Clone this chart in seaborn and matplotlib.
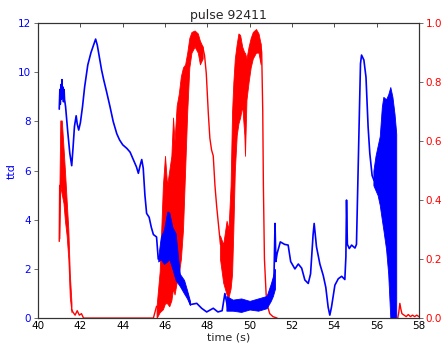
import matplotlib
matplotlib.use("Agg")
import matplotlib.pyplot as plt
import seaborn as sns

# ttd (blue, left axis): smooth trace
ttd_t = [41.00, 41.03, 41.05, 41.08, 41.10, 41.13, 41.15, 41.18, 41.20, 41.23,
         41.25, 41.30, 41.40, 41.50, 41.59,
         41.65, 41.72, 41.80, 41.85, 41.92, 42.00, 42.10, 42.20, 42.35, 42.50,
         42.62, 42.72, 42.80, 42.90, 43.00, 43.10, 43.24, 43.40, 43.55, 43.72,
         43.85, 44.00, 44.20, 44.35, 44.50, 44.65, 44.74, 44.82, 44.90, 44.97,
         45.05, 45.13, 45.25, 45.35, 45.45, 45.60, 45.68, 45.80, 46.00, 46.15,
         46.30, 46.50, 46.70, 46.90, 47.05, 47.20, 47.50, 47.73, 47.97, 48.28,
         48.50, 48.70, 48.83, 48.97, 49.20, 49.60, 50.00, 50.40, 50.80, 51.00,
         51.15, 51.20, 51.24, 51.30, 51.45, 51.65, 51.82, 51.94, 52.14, 52.30,
         52.46, 52.61, 52.77, 52.88, 53.00, 53.05, 53.16, 53.32, 53.48, 53.60,
         53.71, 53.79, 53.87, 54.03, 54.19, 54.35, 54.50, 54.55, 54.58, 54.62,
         54.71, 54.82, 54.98, 55.05, 55.13, 55.18, 55.24, 55.29, 55.40, 55.50,
         55.60, 55.68, 55.79, 55.88]
ttd_v = [8.5, 9.3, 8.7, 9.5, 8.9, 9.7, 9.0, 9.4, 8.8, 9.3,
         8.9, 8.6, 7.6, 6.7, 6.2,
         6.9, 7.8, 8.23, 7.9, 7.65, 7.95, 8.6, 9.4, 10.3, 10.8,
         11.1, 11.35, 11.1, 10.6, 10.1, 9.7, 9.2, 8.6, 8.0, 7.5,
         7.25, 7.05, 6.9, 6.75, 6.45, 6.15, 5.89, 6.2, 6.45, 6.1,
         5.0, 4.26, 4.1, 3.7, 3.4, 3.3, 2.4, 2.6, 3.0, 4.3,
         3.2, 2.6, 1.7, 1.3, 1.0, 0.55, 0.6, 0.4, 0.25, 0.4,
         0.25, 0.3, 1.0, 0.4, 0.5, 0.45, 0.6, 0.5, 0.6, 1.1,
         1.6, 3.85, 2.3, 2.63, 3.1, 3.0, 2.97, 2.3, 2.0, 2.2,
         2.03, 1.55, 1.41, 1.8, 3.4, 3.85, 2.9, 2.2, 1.73, 1.25,
         0.45, 0.12, 0.45, 1.34, 1.6, 1.7, 1.57, 2.5, 4.8, 3.0,
         2.83, 2.97, 2.85, 3.0, 6.1, 8.06, 10.35, 10.7, 10.5, 9.8,
         7.78, 6.7, 5.8, 5.6]

# ttd noisy stretches, drawn as lower / upper envelopes
ttd_band_t = [[45.68, 45.80, 45.95, 46.10, 46.20, 46.35, 46.50, 46.70, 46.90, 47.04, 47.18],
              [48.90, 49.20, 49.60, 50.00, 50.40, 50.80, 51.00, 51.10, 51.20],
              [55.85, 55.95, 56.05, 56.15, 56.25, 56.32, 56.45, 56.55, 56.65, 56.75, 56.85, 56.93]]
ttd_band_lo = [[2.3, 2.4, 2.2, 2.3, 2.4, 2.0, 1.55, 1.3, 1.0, 0.8, 0.53],
               [0.3, 0.3, 0.25, 0.35, 0.3, 0.4, 0.7, 0.9, 1.2],
               [5.4, 5.2, 5.0, 4.6, 4.0, 3.6, 2.8, 1.8, 0.0, 0.0, 0.0, 0.0]]
ttd_band_hi = [[2.5, 3.3, 3.6, 4.3, 4.3, 3.7, 3.45, 1.8, 1.55, 1.14, 0.7],
               [0.9, 0.75, 0.8, 0.7, 0.8, 0.9, 1.4, 1.7, 2.0],
               [6.0, 6.6, 7.0, 7.4, 8.6, 9.0, 8.9, 9.1, 9.4, 9.0, 8.3, 7.5]]

# prd (red, right axis): thin pieces between the noisy stretches
prd_piece_t = [[41.00, 41.02],
               [41.58, 41.65, 41.75, 41.85, 41.95, 42.05, 42.15, 45.45, 45.60],
               [47.78, 47.87, 47.95, 48.05, 48.12, 48.20, 48.28, 48.36, 48.44, 48.55,
                48.62],
               [50.52, 50.57, 50.62, 50.65, 50.70, 50.78, 50.85, 50.95, 51.10, 51.30],
               [57.00, 57.05, 57.10, 57.15, 57.20, 57.30, 57.40, 57.50, 57.60, 57.70,
                57.80, 57.90, 58.00]]
prd_piece_v = [[0.26, 0.45],
               [0.03, 0.02, 0.01, 0.025, 0.01, 0.015, 0.0, 0.0, 0.04],
               [0.92, 0.89, 0.83, 0.69, 0.61, 0.57, 0.55, 0.45, 0.38, 0.3,
                0.25],
               [0.93, 0.9, 0.7, 0.45, 0.2, 0.08, 0.04, 0.015, 0.005, 0.0],
               [0.0, 0.02, 0.05, 0.03, 0.015, 0.01, 0.005, 0.012, 0.005, 0.01,
                0.005, 0.01, 0.005]]

prd_band_t = [[41.01, 41.05, 41.12, 41.20, 41.27, 41.35, 41.43, 41.50, 41.58],
              [45.60, 45.75, 45.90, 46.00, 46.10, 46.20, 46.30, 46.38, 46.45, 46.55,
               46.65, 46.75, 46.85, 46.95, 47.05, 47.15, 47.25, 47.40, 47.55, 47.65, 47.78],
              [48.60, 48.75, 48.91, 49.00, 49.10, 49.17, 49.23, 49.30, 49.39, 49.47,
               49.55, 49.65, 49.75, 49.78, 49.85, 49.95, 50.05, 50.15, 50.30, 50.42, 50.52]]
prd_band_lo = [[0.27, 0.45, 0.42, 0.39, 0.33, 0.28, 0.2, 0.07, 0.02],
               [0.0, 0.02, 0.03, 0.05, 0.05, 0.04, 0.06, 0.1, 0.08, 0.12,
                0.15, 0.2, 0.3, 0.5, 0.7, 0.85, 0.9, 0.92, 0.9, 0.86, 0.88],
               [0.2, 0.12, 0.08, 0.07, 0.1, 0.15, 0.3, 0.5, 0.62, 0.66,
                0.68, 0.72, 0.62, 0.55, 0.74, 0.8, 0.85, 0.88, 0.9, 0.9, 0.86]]
prd_band_hi = [[0.45, 0.67, 0.67, 0.58, 0.5, 0.4, 0.3, 0.15, 0.05],
               [0.04, 0.16, 0.45, 0.55, 0.45, 0.5, 0.55, 0.68, 0.6, 0.72,
                0.76, 0.82, 0.85, 0.86, 0.9, 0.95, 0.97, 0.975, 0.965, 0.94, 0.92],
               [0.28, 0.25, 0.33, 0.3, 0.45, 0.7, 0.8, 0.88, 0.93, 0.965,
                0.96, 0.92, 0.9, 0.9, 0.88, 0.92, 0.95, 0.97, 0.98, 0.965, 0.93]]

ttd_ticks = [0, 2, 4, 6, 8, 10, 12]
prd_ticks = [0.0, 0.2, 0.4, 0.6, 0.8, 1.0]
time_ticks = [40, 42, 44, 46, 48, 50, 52, 54, 56, 58]

sns.set_style("white")
plt.rcParams['font.family'] = ['DejaVu Sans']

fig = plt.figure(figsize=(4.48, 3.45), dpi=100)
ax1 = fig.add_axes([0.085, 0.078, 0.85, 0.855])
ax2 = ax1.twinx()

# red on the twin axis
for pt, pv in zip(prd_piece_t, prd_piece_v):
    sns.lineplot(x=pt, y=pv, ax=ax2, color='red', lw=1.0, sort=False, estimator=None)
for bt, lo, hi in zip(prd_band_t, prd_band_lo, prd_band_hi):
    ax2.fill_between(bt, lo, hi, color='red', lw=0.6, edgecolor='red')

# blue drawn above the red
sns.lineplot(x=ttd_t, y=ttd_v, ax=ax1, color='blue', lw=1.2, sort=False, estimator=None)
for bt, lo, hi in zip(ttd_band_t, ttd_band_lo, ttd_band_hi):
    ax1.fill_between(bt, lo, hi, color='blue', lw=0.6, edgecolor='blue')
ax1.set_zorder(ax2.get_zorder() + 1)
ax1.patch.set_visible(False)

ax1.set_xlim(40, 58)
ax1.set_ylim(0, 12)
ax2.set_ylim(0, 1.0)
ax1.set_xticks(time_ticks)
ax1.set_yticks(ttd_ticks)
ax2.set_yticks(prd_ticks)
ax2.set_yticklabels(['%.1f' % v for v in prd_ticks])

ax1.set_title('pulse 92411', fontsize=9, pad=3)
ax1.set_xlabel('time (s)', fontsize=8, labelpad=1)
ax1.set_ylabel('ttd', fontsize=8, color='blue', labelpad=1)
ax2.set_ylabel('prd', fontsize=8, color='red', labelpad=4)

ax1.tick_params(axis='x', direction='in', top=True, length=3, width=0.6, labelsize=7.5, pad=2, colors='#333333')
ax1.tick_params(axis='x', labelcolor='black')
ax1.tick_params(axis='y', direction='out', length=3, width=0.6, labelsize=7.5, pad=2, colors='#555555', labelcolor='blue')
ax2.tick_params(axis='y', direction='out', length=3, width=0.6, labelsize=7.5, pad=2, colors='#555555', labelcolor='red')
for a in (ax1, ax2):
    for s in a.spines.values():
        s.set_color('#333333')
        s.set_linewidth(0.8)

fig.savefig('out.png', dpi=100)
